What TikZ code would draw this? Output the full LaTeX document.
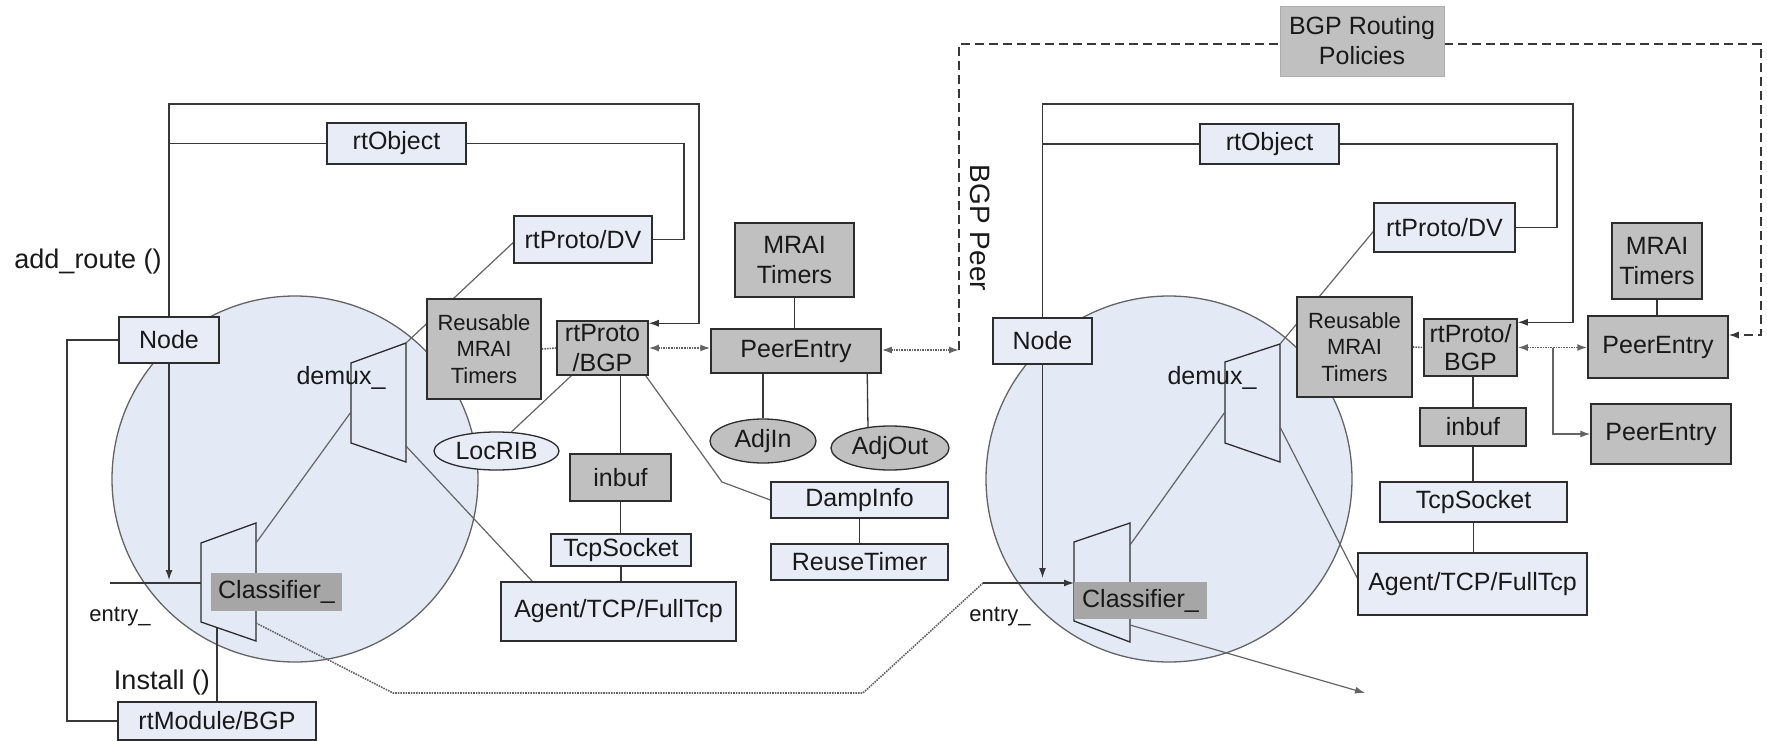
\documentclass[tikz,border=0pt]{standalone}
\usepackage{fontspec}
\setmainfont{Liberation Sans}
\usetikzlibrary{arrows.meta,calc,shapes.geometric}
\pgfdeclarelayer{back}
\pgfdeclarelayer{bg}
\pgfsetlayers{back,bg,main}
\definecolor{lb}{RGB}{231,236,247}
\definecolor{cf}{RGB}{227,233,245}
\definecolor{gb}{RGB}{192,192,192}
\definecolor{cg}{RGB}{166,166,166}
\definecolor{bd}{RGB}{45,45,45}
\definecolor{ln}{RGB}{55,55,55}
\definecolor{lg}{RGB}{100,100,100}
\tikzset{
  base/.style={inner sep=0pt, font=\fontsize{25}{30}\selectfont, text=black!90, align=center},
  bbox/.style={base, draw=bd, line width=1.5pt, fill=lb},
  gbox/.style={base, draw=bd, line width=1.5pt, fill=gb},
  bell/.style={base, ellipse, draw=bd, line width=1.3pt, fill=lb},
  gell/.style={base, ellipse, draw=bd, line width=1.3pt, fill=gb},
  conn/.style={draw=ln, line width=1.3pt},
  lconn/.style={draw=lg, line width=1.2pt},
  dconn/.style={draw=lg, line width=1.6pt, densely dotted},
  dsh/.style={draw=ln, line width=1.3pt, dash pattern=on 9pt off 5pt},
  tip/.style={-{Latex[length=10pt,width=7pt]}},
  btip/.style={{Latex[length=10pt,width=7pt]}-{Latex[length=10pt,width=7pt]}},
  lbl/.style={base, font=\fontsize{27}{32}\selectfont},
  trap/.style={fill=cf, draw=bd, line width=1.3pt}
}
\begin{document}
\begin{tikzpicture}[x=1pt,y=-1pt]
\useasboundingbox (0,0) rectangle (1767,741);

% ---------- left system nodes ----------
\node[bbox,minimum width=139pt,minimum height=41pt] (rtobjL) at (396.5,143.5) {rtObject};
\node[bbox,minimum width=138pt,minimum height=47pt] (dvL) at (583,239.5) {rtProto/DV};
\node[gbox,font=\fontsize{22}{26.5}\selectfont,minimum width=114pt,minimum height=100pt] (reuseL) at (484,349) {Reusable\\MRAI\\Timers};
\node[gbox,minimum width=91pt,minimum height=54pt] (bgpL) at (602.5,348) {rtProto\\/BGP};
\node[bell,minimum width=125pt,minimum height=38pt] (locrib) at (496.5,451) {LocRIB};
\node[gbox,minimum width=101pt,minimum height=47pt] (inbufL) at (620.5,477.5) {inbuf};
\node[bbox,minimum width=140pt,minimum height=32pt] (tcpL) at (621,550) {TcpSocket};
\node[bbox,minimum width=235pt,minimum height=59pt] (agentL) at (618.5,611.5) {Agent/TCP/FullTcp};
\node[bbox,minimum width=177pt,minimum height=36pt] (damp) at (859.5,500) {DampInfo};
\node[bbox,minimum width=177pt,minimum height=36pt] (reuset) at (859.5,562) {ReuseTimer};
\node[gbox,minimum width=119pt,minimum height=74pt] (mraiL) at (794.5,260) {MRAI\\Timers};
\node[gbox,minimum width=170pt,minimum height=44pt] (peerL) at (796,351) {PeerEntry};
\node[gell,minimum width=106pt,minimum height=44pt] (adjin) at (763,441) {AdjIn};
\node[gell,minimum width=118pt,minimum height=44pt] (adjout) at (890,448) {AdjOut};
\node[bbox,minimum width=100pt,minimum height=46pt] (nodeL) at (169,340) {Node};
\node[base,fill=cg,minimum width=131pt,minimum height=38pt] (classL) at (276.5,592) {Classifier\_};
\node[bbox,minimum width=198pt,minimum height=38pt] (rtmod) at (217,721) {rtModule/BGP};

\node[lbl] (addr) at (88,262) {add\_route ()};
\node[lbl] (inst) at (162,683) {Install ()};
\node[base,font=\fontsize{22}{26}\selectfont] (entL) at (120,617) {entry\_};
\node[base] (dmxL) at (341,378) {demux\_};

% ---------- middle ----------
\node[base,fill=gb,draw=gb!90!black,line width=0.6pt,minimum width=164pt,minimum height=70pt] (pol) at (1362,41) {BGP Routing\\Policies};
\node[base,font=\fontsize{28}{32}\selectfont,rotate=-90] (bgppeer) at (980,228) {BGP Peer};

% ---------- right system nodes ----------
\node[bbox,minimum width=139pt,minimum height=40pt] (rtobjR) at (1269.5,144) {rtObject};
\node[bbox,minimum width=141pt,minimum height=49pt] (dvR) at (1444.5,227.5) {rtProto/DV};
\node[gbox,font=\fontsize{22}{26.5}\selectfont,minimum width=115pt,minimum height=100pt] (reuseR) at (1354.5,347) {Reusable\\MRAI\\Timers};
\node[gbox,font=\fontsize{25}{28}\selectfont,minimum width=93pt,minimum height=57pt] (bgpR) at (1470.5,347.5) {rtProto/\\BGP};
\node[gbox,minimum width=106pt,minimum height=38pt] (inbufR) at (1473,427) {inbuf};
\node[bbox,minimum width=187pt,minimum height=40pt] (tcpR) at (1473.5,502) {TcpSocket};
\node[bbox,minimum width=229pt,minimum height=62pt] (agentR) at (1472.5,584) {Agent/TCP/FullTcp};
\node[gbox,minimum width=90pt,minimum height=76pt] (mraiR) at (1657,261) {MRAI\\Timers};
\node[gbox,minimum width=140pt,minimum height=62pt] (peerR1) at (1658,347) {PeerEntry};
\node[gbox,minimum width=140pt,minimum height=60pt] (peerR2) at (1661,434) {PeerEntry};
\node[bbox,minimum width=99pt,minimum height=46pt] (nodeR) at (1042.5,341) {Node};
\node[base,fill=cg,minimum width=133pt,minimum height=37pt] (classR) at (1140.5,600.5) {Classifier\_};
\node[base,font=\fontsize{22}{26}\selectfont] (entR) at (1000,617) {entry\_};
\node[base] (dmxR) at (1212,378) {demux\_};

% ---------- key points ----------
\coordinate (dmLa) at (351,412);
\coordinate (dmLtr) at (406,343);
\coordinate (dmLb) at (406,446);
\coordinate (clLa) at (256,543);
\coordinate (clLe) at (201,583);
\coordinate (clLb) at (217,628);
\coordinate (clLd) at (256,623);
\coordinate (eLs) at (110,583);
\coordinate (dmRa) at (1225,412);
\coordinate (dmRtr) at (1280,344);
\coordinate (dmRb) at (1280,427);
\coordinate (clRa) at (1130,545);
\coordinate (clRe) at (1074,583);
\coordinate (clRd) at (1130,625);
\coordinate (oLtop) at (699,104);
\coordinate (iL) at (684,200);
\coordinate (oRtop) at (1573,104);
\coordinate (iR) at (1557,180);
\coordinate (lL) at (67,500);
\coordinate (dbend) at (722,482);
\coordinate (bp) at (959,350);
\coordinate (dtl) at (959,44);
\coordinate (dtr) at (1761,44);
\coordinate (br) at (1553,347.5);
\coordinate (dr1) at (393,693);
\coordinate (dr2) at (863,693);
\coordinate (ent) at (983,583);
\coordinate (outR) at (1365,693);

% ---------- background shapes ----------
\begin{pgfonlayer}{back}
\fill[white] (0,0) rectangle (1767,741);
\filldraw[fill=cf,draw=lg,line width=1.3pt] (295,479) circle[radius=183];
\filldraw[fill=cf,draw=lg,line width=1.3pt] (1169,479) circle[radius=183];
\path[trap] (351,363) -- (406,343) -- (406,462) -- (351,443) -- cycle;
\path[trap] (201,543) -- (256,523) -- (256,641) -- (201,622) -- cycle;
\path[trap] (1225,362) -- (1280,344) -- (1280,462) -- (1225,443) -- cycle;
\path[trap] (1074,542) -- (1130,523) -- (1130,642) -- (1074,621) -- cycle;
\end{pgfonlayer}

% ---------- connectors ----------
\begin{pgfonlayer}{bg}
% left
\draw[conn,tip] (nodeL.north) |- (oLtop) |- ($(bgpL.north east)+(0,3)$);
\draw[conn] (rtobjL.west) -- (rtobjL.west -| nodeL.north);
\draw[conn] (rtobjL.east) -| (iL) |- (dvL.east);
\draw[lconn] ($(dvL.west)+(0,3)$) -- (dmLtr);
\draw[dconn] (reuseL.east) -- (bgpL.west);
\draw[lconn] (locrib.52) -- ($(bgpL.south west)+(15,0)$);
\draw[conn] (inbufL.north) -- (inbufL.north |- bgpL.south);
\draw[conn] (inbufL.south) -- (inbufL.south |- tcpL.north);
\draw[conn] (tcpL.south) -- (tcpL.south |- agentL.north);
\draw[lconn] ($(bgpL.south east)+(-3,0)$) -- (dbend) -- (damp.west);
\draw[conn] (damp.south) -- (reuset.north);
\draw[dconn,btip] (bgpL.east) -- (bgpL.east -| peerL.west);
\draw[conn] (mraiL.south) -- (mraiL.south |- peerL.north);
\draw[conn] (adjin.north |- peerL.south) -- (adjin.north);
\draw[conn] ($(peerL.south west)+(157,0)$) -- ($(adjout.north)+(-22,4)$);
\draw[dconn,btip] ($(peerL.east)+(0,-1)$) -- (bp);
\draw[lconn] (clLa) -- (dmLa);
\draw[lconn] (dmLb) -- ($(agentL.north west)+(32,0)$);
\draw[conn,tip] (nodeL.south) -- ($(nodeL.south |- clLe)+(0,-3)$);
\draw[conn] (eLs) -- (clLe);
\draw[conn] (clLb) -- (rtmod.north);
\draw[conn] (nodeL.west) -| (lL) |- (rtmod.west);
\draw[dconn] (clLd) -- (dr1) -- (dr2) -- (ent);
\draw[conn,tip] (ent) -- (clRe);
% middle dashed
\draw[dsh] (bp) -- (dtl) -- (dtl -| pol.west);
\draw[dsh,tip] (dtl -| pol.east) -- (dtr) |- ($(peerR1.east)+(0,-12)$);
% right
\draw[conn,tip] (nodeR.north) |- (oRtop) |- ($(bgpR.north east)+(0,4)$);
\draw[conn] (rtobjR.west) -- (rtobjR.west -| nodeR.north);
\draw[conn] (rtobjR.east) -| (iR) |- (dvR.east);
\draw[lconn] ($(dvR.west)+(0,4)$) -- (dmRtr);
\draw[dconn] (reuseR.east) -- (bgpR.west);
\draw[dconn,btip] (bgpR.east) -- (bgpR.east -| peerR1.west);
\draw[lconn,tip] (br) |- (peerR2.west);
\draw[conn] (mraiR.south) -- (mraiR.south |- peerR1.north);
\draw[conn] (inbufR.north) -- (inbufR.north |- bgpR.south);
\draw[conn] (inbufR.south) -- (inbufR.south |- tcpR.north);
\draw[conn] (tcpR.south) -- (tcpR.south |- agentR.north);
\draw[lconn] (clRa) -- (dmRa);
\draw[lconn] (dmRb) -- ($(agentR.west)+(0,-6)$);
\draw[conn,tip] (nodeR.south) -- ($(nodeR.south |- clRe)+(0,-5)$);
\draw[lconn,tip] (clRd) -- (outR);
\end{pgfonlayer}
\end{tikzpicture}
\end{document}
